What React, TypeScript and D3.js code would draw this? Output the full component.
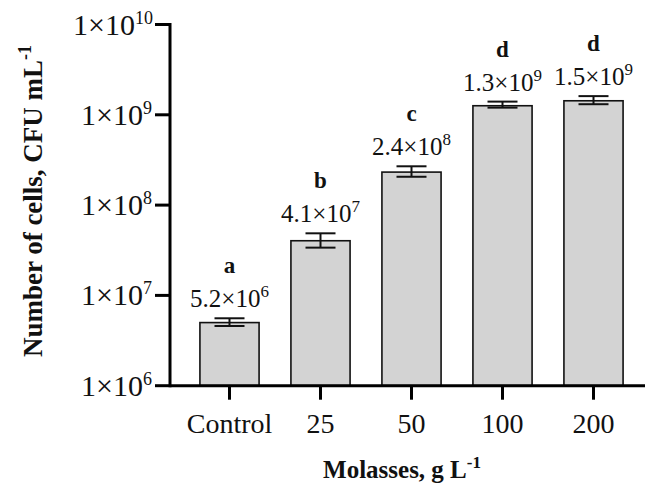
import React from "react";
import * as d3 from "d3";

const categories = ["Control", "25", "50", "100", "200"];
const means = [5.0e6, 4.03e7, 2.32e8, 1.26e9, 1.43e9];
const errUpper = [5.58e6, 4.87e7, 2.69e8, 1.4e9, 1.61e9];
const errLower = [4.58e6, 3.38e7, 2.06e8, 1.2e9, 1.31e9];
const valueMantissa = ["5.2", "4.1", "2.4", "1.3", "1.5"];
const valueExponent = ["6", "7", "8", "9", "9"];
const letters = ["a", "b", "c", "d", "d"];
const yTicks = [1e6, 1e7, 1e8, 1e9, 1e10];

const W = 646;
const H = 489;
const FONT = "'Liberation Serif', 'Times New Roman', serif";

export default function App() {
  const axisX = 170;
  const y = d3.scaleLog().domain([1e6, 1e10]).range([385.7, 24.5]);
  const x = d3
    .scaleBand<string>()
    .domain(categories)
    .range([184, 639])
    .paddingInner(0.35)
    .paddingOuter(0.175);
  const bw = x.bandwidth();
  const y0 = y(1e6);

  return (
    <svg width={W} height={H} style={{ position: "absolute", left: 0, top: 0, background: "#fff" }}>
      <rect x={0} y={0} width={W} height={H} fill="#fff" />
      {categories.map((c, i) => {
        const cx = (x(c) as number) + bw / 2;
        const top = y(means[i]);
        const up = y(errUpper[i]);
        const lo = y(errLower[i]);
        return (
          <g key={c}>
            <rect x={x(c)} y={top} width={bw} height={y0 - top} fill="#d3d3d3" stroke="#111" strokeWidth={1.6} />
            <line x1={cx} x2={cx} y1={up} y2={lo} stroke="#111" strokeWidth={2} />
            <line x1={cx - 15} x2={cx + 15} y1={up} y2={up} stroke="#111" strokeWidth={2} />
            <line x1={cx - 15} x2={cx + 15} y1={lo} y2={lo} stroke="#111" strokeWidth={2} />
            <text x={cx} y={up - 11} textAnchor="middle" fontFamily={FONT} fontSize={25} fill="#111">
              {valueMantissa[i]}×10
              <tspan dy={-10} fontSize={17}>{valueExponent[i]}</tspan>
            </text>
            <text x={cx} y={up - 45} textAnchor="middle" fontFamily={FONT} fontSize={23} fontWeight="bold" fill="#111">
              {letters[i]}
            </text>
          </g>
        );
      })}
      <line x1={axisX} x2={axisX} y1={y(1e10) - 1.5} y2={y0 + 1.5} stroke="#000" strokeWidth={3} />
      {yTicks.map((t) => {
        const e = Math.round(Math.log10(t));
        const supW = e >= 10 ? 17 : 9;
        return (
          <g key={t}>
            <line x1={155} x2={axisX} y1={y(t)} y2={y(t)} stroke="#000" strokeWidth={3} />
            <text x={152 - supW} y={y(t) + 10} textAnchor="end" fontFamily={FONT} fontSize={30} fill="#111">
              1×10
            </text>
            <text x={152 - supW} y={y(t) - 1} textAnchor="start" fontFamily={FONT} fontSize={18} fill="#111">
              {e}
            </text>
          </g>
        );
      })}
      <line x1={axisX} x2={645} y1={y0} y2={y0} stroke="#000" strokeWidth={3} />
      {categories.map((c) => {
        const cx = (x(c) as number) + bw / 2;
        return (
          <g key={c}>
            <line x1={cx} x2={cx} y1={y0} y2={y0 + 14} stroke="#000" strokeWidth={3} />
            <text x={cx} y={433} textAnchor="middle" fontFamily={FONT} fontSize={28} fill="#111">
              {c}
            </text>
          </g>
        );
      })}
      <text x={402} y={478} textAnchor="middle" fontFamily={FONT} fontSize={25} fontWeight="bold" fill="#111">
        Molasses, g L<tspan dy={-10} fontSize={17}>-1</tspan>
      </text>
      <text
        transform={`translate(42,201) rotate(-90)`}
        textAnchor="middle"
        fontFamily={FONT}
        fontSize={27}
        fontWeight="bold"
        fill="#111"
      >
        Number of cells, CFU mL<tspan dy={-11} fontSize={18}>-1</tspan>
      </text>
    </svg>
  );
}
